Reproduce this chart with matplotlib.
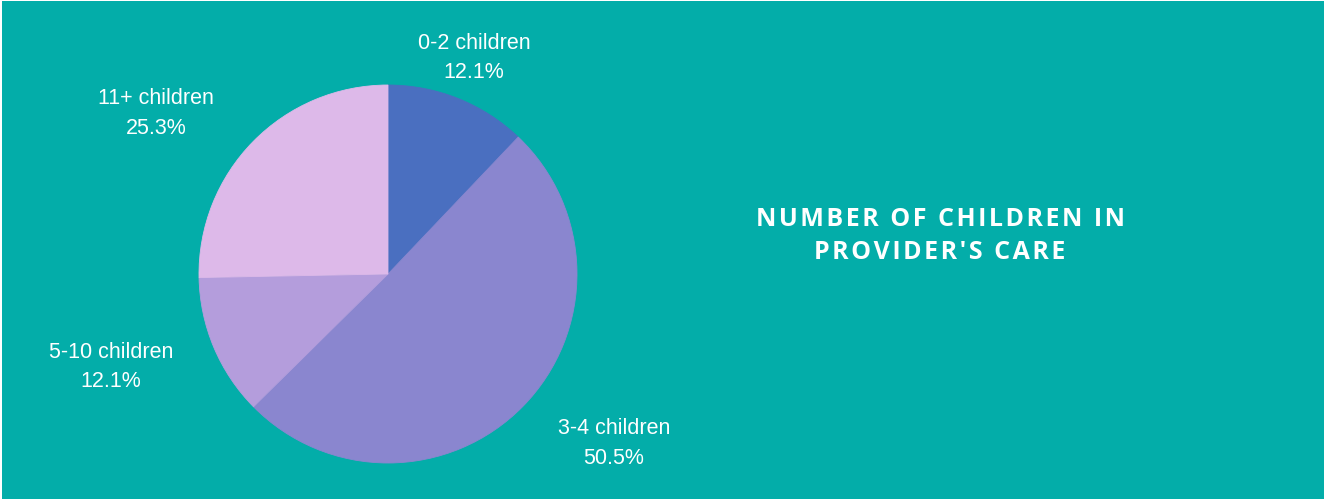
import matplotlib.pyplot as plt
from matplotlib.patches import Rectangle
import numpy as np

categories = ["0-2 children", "3-4 children", "5-10 children", "11+ children"]
shares = [12.1, 50.5, 12.1, 25.3]
colors = ["#4A6FC0", "#8A86CF", "#B49DDC", "#DDB9E9"]
title = "NUMBER OF CHILDREN IN\nPROVIDER'S CARE"

# label placement (radius in pie units, angle tweak in degrees)
label_r = [1.235, 1.49, 1.545, 1.495]
label_dang = [0.2, 7.8, -4.5, 9.6]

bg = "#03ADA9"
W, H = 1327, 502
fig = plt.figure(figsize=(W / 100, H / 100), dpi=100, facecolor="white")
fig.patches.append(Rectangle((2 / W, 2 / H), 1 - 5 / W, 1 - 4 / H,
                             transform=fig.transFigure, facecolor=bg,
                             edgecolor="none", zorder=-5))

ax = fig.add_axes([0, 0, 1, 1])
ax.set_facecolor("none")
ax.set_zorder(2)
R = 189
cx, cy = 388, 275
wedges, _ = ax.pie(shares, colors=colors, startangle=90, counterclock=False,
                   radius=1, wedgeprops=dict(linewidth=0.6))
for w, c in zip(wedges, colors):
    w.set_edgecolor(c)

for w, cat, val, r, da in zip(wedges, categories, shares, label_r, label_dang):
    mid = np.deg2rad((w.theta1 + w.theta2) / 2 + da)
    ax.text(r * np.cos(mid), r * np.sin(mid), f"{cat}\n{val:.1f}%",
            ha="center", va="center", color="white", fontsize=15.5,
            family="Liberation Sans", linespacing=1.55)

ax.set_xlim(-cx / R, (W - cx) / R)
ax.set_ylim(-(H - cy) / R, cy / R)
ax.set_aspect("auto")
ax.axis("off")

# letter spacing via hair spaces
spaced = "\n".join("\u200a".join(line) for line in title.split("\n"))
fig.text(940 / W, 1 - 236 / H, spaced, ha="center", va="center",
         color="white", fontsize=18, family=["Open Sans", "DejaVu Sans"],
         weight="bold", linespacing=1.38, zorder=3)

fig.savefig("out.png", dpi=100, facecolor="white")
